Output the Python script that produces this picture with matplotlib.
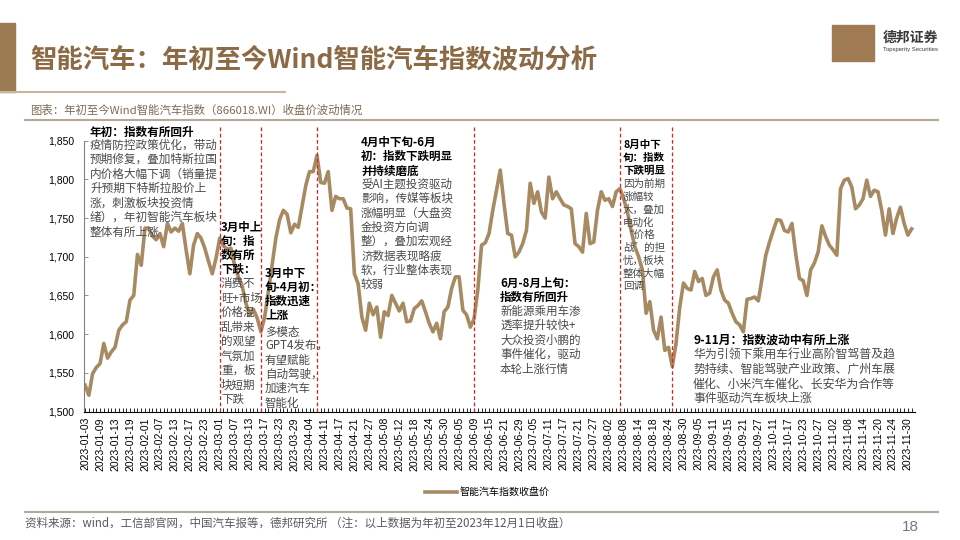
import numpy as np
import pandas as pd
import matplotlib
matplotlib.use("Agg")
import matplotlib.pyplot as plt
from matplotlib.patches import Rectangle
from matplotlib.lines import Line2D

plt.rcParams['font.family'] = ['Noto Sans CJK SC', 'DejaVu Sans']
plt.rcParams['axes.unicode_minus'] = False

# A股2023年休市日（工作日）
holidays = ['2023-01-23', '2023-01-24', '2023-01-25', '2023-01-26', '2023-01-27',
            '2023-04-05', '2023-05-01', '2023-05-02', '2023-05-03',
            '2023-06-22', '2023-06-23', '2023-09-29',
            '2023-10-02', '2023-10-03', '2023-10-04', '2023-10-05', '2023-10-06']
dates = [d.strftime('%Y-%m-%d') for d in pd.bdate_range('2023-01-03', '2023-12-01')
         if d.strftime('%Y-%m-%d') not in holidays]

# 智能汽车指数收盘价
close = [
    1534, 1521, 1549, 1557, 1562, 1588, 1569, 1577, 1583, 1605,
    1612, 1616, 1644, 1650, 1703, 1689, 1737, 1737, 1727, 1722,
    1730, 1713, 1743, 1732, 1737, 1733, 1743, 1709, 1678, 1715,
    1730, 1724, 1711, 1694, 1678, 1698, 1724, 1714, 1710, 1711,
    1688, 1674, 1662, 1640, 1624, 1632, 1621, 1603, 1622, 1655,
    1690, 1724, 1748, 1760, 1755, 1731, 1742, 1738, 1765, 1792,
    1810, 1810, 1831, 1796, 1795, 1810, 1760, 1778, 1775, 1775,
    1763, 1762, 1678, 1665, 1622, 1605, 1640, 1625, 1635, 1596,
    1629, 1624, 1650, 1640, 1630, 1640, 1616, 1617, 1633, 1637,
    1643, 1629, 1614, 1603, 1614, 1594, 1629, 1635, 1659, 1674,
    1674, 1631, 1625, 1609, 1620, 1657, 1715, 1718, 1730, 1760,
    1786, 1812, 1769, 1730, 1728, 1700, 1706, 1717, 1734, 1795,
    1769, 1784, 1758, 1750, 1803, 1775, 1784, 1775, 1767, 1765,
    1762, 1717, 1713, 1706, 1756, 1717, 1719, 1760, 1784, 1773,
    1775, 1765, 1784, 1788, 1775, 1758, 1734, 1713, 1700, 1683,
    1627, 1642, 1605, 1594, 1622, 1579, 1583, 1558, 1588, 1635,
    1666, 1659, 1657, 1681, 1668, 1672, 1650, 1653, 1674, 1683,
    1657, 1644, 1640, 1627, 1616, 1612, 1603, 1645, 1646, 1648,
    1643, 1672, 1702, 1719, 1734, 1748, 1747, 1734, 1732, 1743,
    1704, 1672, 1669, 1650, 1683, 1692, 1706, 1740, 1726, 1715,
    1709, 1702, 1788, 1799, 1801, 1790, 1762, 1767, 1775, 1799,
    1778, 1786, 1784, 1760, 1728, 1762, 1730, 1750, 1764, 1743,
    1728, 1736,
]

# 阶段分割线
split_dates = ['2023-03-01', '2023-03-16', '2023-04-07', '2023-06-09', '2023-08-07', '2023-08-25']

yticks = [1500, 1550, 1600, 1650, 1700, 1750, 1800, 1850]

title = '智能汽车：年初至今Wind智能汽车指数波动分析'
subtitle = '图表：年初至今Wind智能汽车指数（866018.WI）收盘价波动情况'
source = '资料来源：wind，工信部官网，中国汽车报等，德邦研究所 （注：以上数据为年初至2023年12月1日收盘）'
legend_label = '智能汽车指数收盘价'

brown = '#8B6A45'
line_color = '#A88A62'
body_color = '#4a4a4a'

W, H = 960, 540
fig = plt.figure(figsize=(9.6, 5.4), dpi=100)


def fx(px):
    return px / W


def fy(py):
    return 1 - py / H


# 页眉装饰
fig.patches.append(Rectangle((0, fy(92)), fx(15), (92 - 23) / H, transform=fig.transFigure,
                             color='#9C7A52', zorder=0))
fig.add_artist(Line2D([0, fx(285)], [fy(92), fy(92)], color='#C9B59C', lw=1.5))
fig.text(fx(30), fy(60), title, fontsize=19, fontweight='bold', color=brown, va='center')

# logo
fig.patches.append(Rectangle((fx(832), fy(61)), fx(42), 36 / H, transform=fig.transFigure,
                             color='#A07A52', zorder=0))
fig.text(fx(883), fy(38), '德邦证券', fontsize=10, fontweight='bold', color='#3a3a3a', va='center')
fig.text(fx(883), fy(49), 'Topsperity Securities', fontsize=4.2, color='#3a3a3a', va='center',
         family='Liberation Sans')

fig.text(fx(30), fy(110), subtitle, fontsize=8.2, color='#7f6a55', va='center')
fig.add_artist(Line2D([fx(25), fx(938)], [fy(120), fy(120)], color='#B5A898', lw=1.5))

# 主图
ax = fig.add_axes([fx(84), fy(411.5), fx(915 - 84), (411.5 - 140.7) / H])
x = np.arange(len(close))
ax.plot(x, close, color=line_color, lw=2.6, label=legend_label, solid_joinstyle='round')

for d in split_dates:
    xi = dates.index(d)
    ax.plot([xi, xi], [1500, 1870], color='#E02020', lw=0.9, ls=(0, (3, 2)), clip_on=False)

ax.set_xlim(-0.3, len(close) - 0.1)
ax.set_ylim(1500, 1850)
ax.set_yticks(yticks)
ax.set_yticklabels([f'{v:,}' for v in yticks], family='Liberation Sans', fontsize=7.5)
ax.set_xticks(x[::4])
ax.set_xticklabels(dates[::4], rotation=90, family='Liberation Sans', fontsize=7.5)
ax.set_xticks(x, minor=True)
ax.tick_params(axis='x', which='both', direction='in', length=3, width=0.6, pad=4)
ax.tick_params(axis='y', direction='in', length=3, width=0.6, color='#808080', pad=7)
for s in ['top', 'right']:
    ax.spines[s].set_visible(False)
ax.spines['left'].set_color('#808080')
ax.spines['bottom'].set_color('#000000')
ax.spines['bottom'].set_linewidth(0.8)
ax.patch.set_alpha(0)

ax.legend(loc='center', bbox_to_anchor=(fx(487), fy(492)), bbox_transform=fig.transFigure,
          frameon=False, fontsize=7.2, handlelength=3.2, handletextpad=0.3)


# 阶段注释
def note(px, head_y, head_lines, head_step, body_y, body_lines, body_step, size):
    for k, t in enumerate(head_lines):
        fig.text(fx(px), fy(head_y + k * head_step), t, fontsize=size, fontweight='bold',
                 color='black', va='center')
    for k, t in enumerate(body_lines):
        fig.text(fx(px), fy(body_y + k * body_step), t, fontsize=size, color=body_color,
                 va='center')


note(90, 132, ['年初：指数有所回升'], 14.5, 145,
     ['疫情防控政策优化，带动', '预期修复，叠加特斯拉国', '内价格大幅下调（销量提',
      '升预期下特斯拉股价上', '涨，刺激板块投资情', '绪），年初智能汽车板块', '整体有所上涨'],
     14.5, 8.4)
note(221, 227, ['3月中上', '旬：指', '数有所', '下跌：'], 14, 284,
     ['消费不', '旺+市场', '价格混', '乱带来', '的观望', '气氛加', '重，板', '块短期', '下跌'],
     14.4, 8.3)
note(265, 273, ['3月中下', '旬-4月初：', '指数迅速', '上涨'], 14.3, 332,
     ['多模态', 'GPT4发布，', '有望赋能', '自动驾驶，', '加速汽车', '智能化'],
     14.2, 8.3)
note(361, 142, ['4月中下旬-6月', '初：指数下跌明显', '并持续磨底'], 14.5, 184,
     ['受AI主题投资驱动', '影响，传媒等板块', '涨幅明显（大盘资', '金投资方向调',
      '整），叠加宏观经', '济数据表现略疲', '软，行业整体表现', '较弱'],
     14.4, 8.3)
note(500, 283, ['6月-8月上旬：', '指数有所回升'], 14, 311,
     ['新能源乘用车渗', '透率提升较快+', '大众投资小鹏的', '事件催化，驱动', '本轮上涨行情'],
     14.5, 8.3)
note(623, 145, ['8月中下', '旬：指数', '下跌明显'], 13, 184,
     ['因为前期', '涨幅较', '大，叠加', '电动化', '“价格', '战”的担', '忧，板块', '整体大幅', '回调'],
     12.8, 7.6)
note(693, 340, ['9-11月：指数波动中有所上涨'], 14, 355,
     ['华为引领下乘用车行业高阶智驾普及趋', '势持续、智能驾驶产业政策、广州车展',
      '催化、小米汽车催化、长安华为合作等', '事件驱动汽车板块上涨'],
     14.5, 8.6)

# 页脚
fig.add_artist(Line2D([fx(25), fx(938)], [fy(512), fy(512)], color='#B5A898', lw=1.5))
fig.text(fx(25), fy(523), source, fontsize=8.3, color='#5a5a5a', va='center')
fig.text(fx(919), fy(527), '18', fontsize=11, color='#777777', va='center', ha='right',
         family='Liberation Sans')

fig.savefig('out.png', dpi=100)
